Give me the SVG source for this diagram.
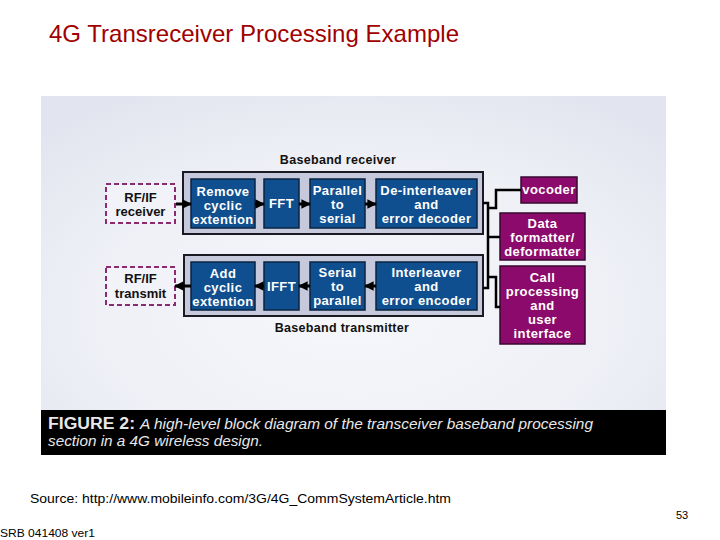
<svg xmlns="http://www.w3.org/2000/svg" width="720" height="540" viewBox="0 0 720 540">
<defs>
<radialGradient id="bg" cx="0.5" cy="0.6" r="0.7">
<stop offset="0" stop-color="#f6f7fb"/>
<stop offset="0.6" stop-color="#eef0f6"/>
<stop offset="1" stop-color="#e2e5ef"/>
</radialGradient>
<marker id="ah" viewBox="0 0 10 10" refX="9" refY="5" markerWidth="3.2" markerHeight="3.2" orient="auto" markerUnits="strokeWidth">
<path d="M0,0 L10,5 L0,10 z" fill="#000"/>
</marker>
</defs>
<style>
.title{font-family:"Liberation Sans",Arial,sans-serif;font-size:24px;fill:#a00000}
.foot{font-family:"Liberation Sans",Arial,sans-serif;fill:#000}
.cont{fill:#c6c9dc;stroke:#1a1a22;stroke-width:2}
.blk{fill:#0f4f8f;stroke:#0a2340;stroke-width:1.5}
.mag{fill:#8c0a6c;stroke:#3a0830;stroke-width:1.5}
.rf{fill:#f2f3f8;stroke:#8a2a70;stroke-width:2;stroke-dasharray:5,3}
.bt{font-family:"Liberation Sans",Arial,sans-serif;font-weight:bold;font-size:13px;fill:#fff;text-anchor:middle;letter-spacing:0.4px}
.kt{font-family:"Liberation Sans",Arial,sans-serif;font-weight:bold;font-size:13px;fill:#111;text-anchor:middle}
.lbl{font-family:"Liberation Sans",Arial,sans-serif;font-weight:bold;font-size:12.5px;fill:#111;text-anchor:middle;letter-spacing:0.3px}
.wire{fill:none;stroke:#000;stroke-width:2.5}
.arr{fill:none;stroke:#000;stroke-width:3;marker-end:url(#ah)}
.cap{font-family:"Liberation Sans",Arial,sans-serif;fill:#e8e8e8}
</style>
<rect x="0" y="0" width="720" height="540" fill="#fff"/>
<text class="title" x="49" y="42" textLength="410" lengthAdjust="spacingAndGlyphs">4G Transreceiver Processing Example</text>

<rect x="41" y="96" width="625" height="359" fill="url(#bg)"/>
<rect x="41" y="410" width="625" height="45" fill="#000"/>
<text class="cap" x="48" y="429" font-weight="bold" font-size="16" textLength="87" lengthAdjust="spacingAndGlyphs" fill="#fff">FIGURE 2:</text>
<text class="cap" x="140" y="429" font-style="italic" font-size="14" textLength="453" lengthAdjust="spacingAndGlyphs">A high-level block diagram of the  transceiver baseband processing</text>
<text class="cap" x="48" y="446" font-style="italic" font-size="14" textLength="215" lengthAdjust="spacingAndGlyphs">section in a 4G wireless design.</text>

<text class="lbl" x="338" y="164">Baseband receiver</text>
<text class="lbl" x="342" y="332">Baseband transmitter</text>

<g id="receiver-container"><rect class="cont" x="183" y="172" width="300" height="62"/></g>
<g id="transmitter-container"><rect class="cont" x="184" y="255" width="299" height="61"/></g>

<g id="rf-receiver"><rect class="rf" x="106" y="184" width="69" height="39"/>
<text class="kt" x="140.5" y="202">RF/IF</text><text class="kt" x="140.5" y="216">receiver</text></g>
<g id="rf-transmit"><rect class="rf" x="106" y="267" width="69" height="38"/>
<text class="kt" x="140.5" y="283">RF/IF</text><text class="kt" x="140.5" y="298">transmit</text></g>

<g id="remove-cyclic"><rect class="blk" x="191" y="179" width="64" height="49"/>
<text class="bt" x="223" y="196">Remove</text><text class="bt" x="223" y="210">cyclic</text><text class="bt" x="223" y="224">extention</text></g>
<g id="fft"><rect class="blk" x="264" y="179" width="35" height="49"/>
<text class="bt" x="281.5" y="208">FFT</text></g>
<g id="parallel-serial"><rect class="blk" x="310" y="179" width="55" height="49"/>
<text class="bt" x="337.5" y="195">Parallel</text><text class="bt" x="337.5" y="209">to</text><text class="bt" x="337.5" y="223">serial</text></g>
<g id="deinterleaver"><rect class="blk" x="376" y="179" width="101" height="49"/>
<text class="bt" x="426.5" y="195">De-interleaver</text><text class="bt" x="426.5" y="209">and</text><text class="bt" x="426.5" y="223">error decoder</text></g>

<g id="add-cyclic"><rect class="blk" x="191" y="262" width="64" height="48"/>
<text class="bt" x="223" y="278">Add</text><text class="bt" x="223" y="292">cyclic</text><text class="bt" x="223" y="306">extention</text></g>
<g id="ifft"><rect class="blk" x="264" y="262" width="35" height="48"/>
<text class="bt" x="281.5" y="291">IFFT</text></g>
<g id="serial-parallel"><rect class="blk" x="310" y="262" width="55" height="48"/>
<text class="bt" x="337.5" y="277">Serial</text><text class="bt" x="337.5" y="291">to</text><text class="bt" x="337.5" y="305">parallel</text></g>
<g id="interleaver"><rect class="blk" x="376" y="262" width="101" height="48"/>
<text class="bt" x="426.5" y="277">Interleaver</text><text class="bt" x="426.5" y="291">and</text><text class="bt" x="426.5" y="305">error encoder</text></g>

<g id="vocoder"><rect class="mag" x="521" y="177" width="56" height="26"/>
<text class="bt" x="549" y="194">vocoder</text></g>
<g id="data-formatter"><rect class="mag" x="500" y="213" width="85" height="47"/>
<text class="bt" x="542.5" y="228">Data</text><text class="bt" x="542.5" y="242">formatter/</text><text class="bt" x="542.5" y="256">deformatter</text></g>
<g id="call-processing"><rect class="mag" x="500" y="266" width="85" height="78"/>
<text class="bt" x="542.5" y="282">Call</text><text class="bt" x="542.5" y="296">processing</text><text class="bt" x="542.5" y="310">and</text><text class="bt" x="542.5" y="324">user</text><text class="bt" x="542.5" y="338">interface</text></g>

<g id="connectors">
<line class="arr" x1="176" y1="204" x2="191" y2="204"/>
<line class="arr" x1="255" y1="204" x2="264" y2="204"/>
<line class="arr" x1="299" y1="204" x2="310" y2="204"/>
<line class="arr" x1="365" y1="204" x2="376" y2="204"/>
<line class="arr" x1="376" y1="286" x2="365" y2="286"/>
<line class="arr" x1="310" y1="286" x2="299" y2="286"/>
<line class="arr" x1="264" y1="286" x2="255" y2="286"/>
<line class="arr" x1="191" y1="286" x2="175" y2="286"/>
<path class="wire" d="M483,203 H488 V288 H483"/>
<path class="wire" d="M488,208 H496 V190 H521"/>
<path class="wire" d="M488,237 H500"/>
<path class="wire" d="M488,277 H496 V307 H500"/>
</g>

<text class="foot" x="30" y="503" font-size="13" textLength="421" lengthAdjust="spacingAndGlyphs">Source: http://www.mobileinfo.com/3G/4G_CommSystemArticle.htm</text>
<text class="foot" x="676" y="519" font-size="11">53</text>
<text class="foot" x="0" y="537" font-size="11" textLength="95" lengthAdjust="spacingAndGlyphs">SRB 041408 ver1</text>
</svg>
